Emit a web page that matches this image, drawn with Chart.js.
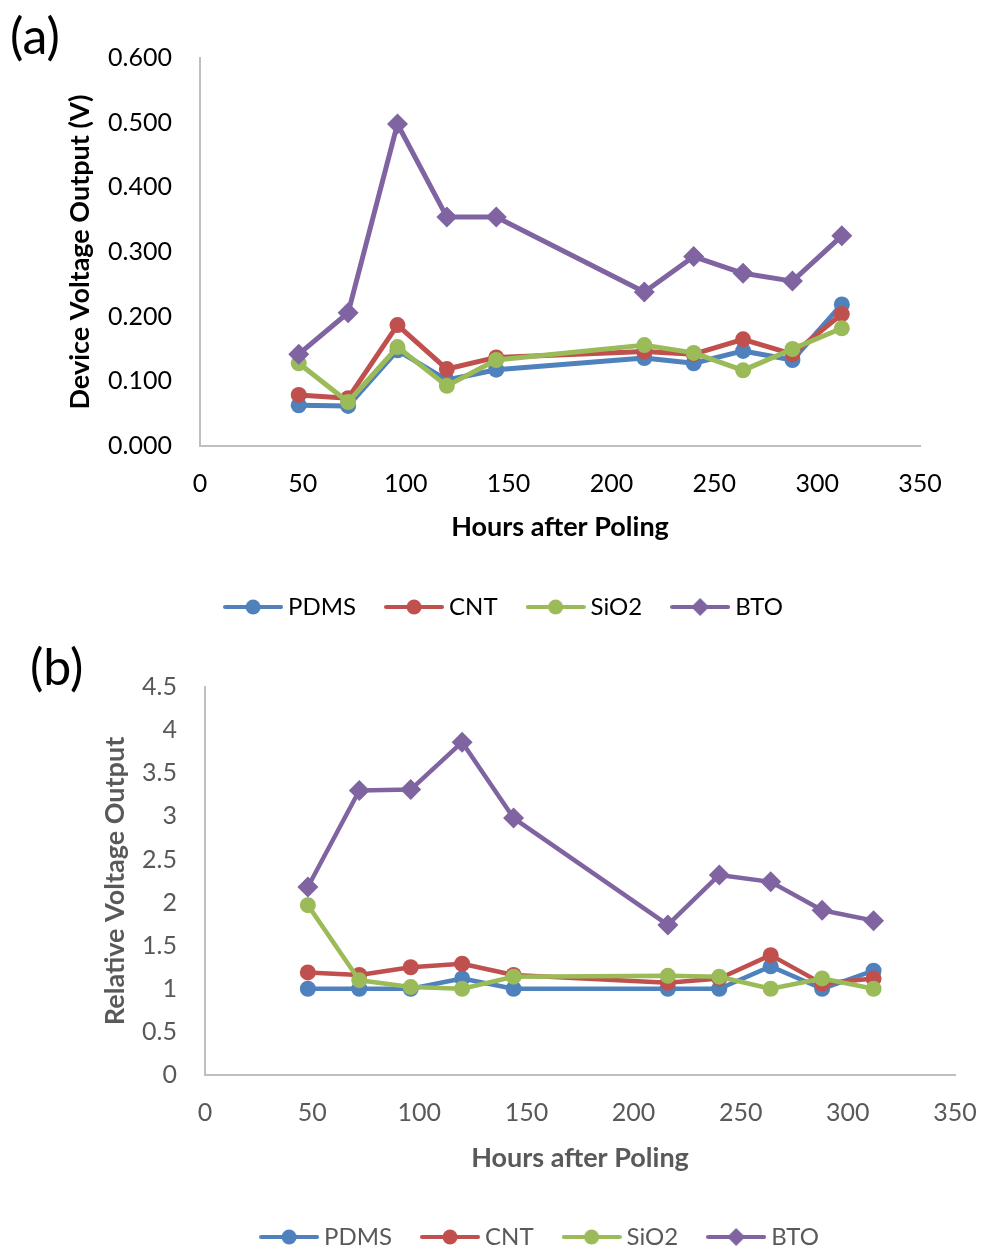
<!DOCTYPE html>
<html><head><meta charset="utf-8">
<script src="https://cdn.jsdelivr.net/npm/chart.js@4.4.0/dist/chart.umd.min.js"></script>
<style>
html,body{margin:0;padding:0;background:#fff;}
body{width:981px;height:1252px;position:relative;overflow:hidden;font-family:Lato,sans-serif;}
.wrap{position:absolute;left:0;width:981px;}
#w1{top:0;height:640px;}
#w2{top:633px;height:630px;}
.lab{position:absolute;font-family:Lato,sans-serif;font-size:50px;color:#000;line-height:1;}
</style></head><body>
<div class="wrap" id="w1"><canvas id="c1" width="981" height="640"></canvas></div>
<div class="wrap" id="w2"><canvas id="c2" width="981" height="630"></canvas></div>
<div class="lab" style="left:10px;top:10px">(a)</div>
<div class="lab" style="left:30px;top:641px">(b)</div>
<script>
// ---- data ----
const hours = [48, 72, 96, 120, 144, 216, 240, 264, 288, 312];
const seriesNames = ['PDMS', 'CNT', 'SiO2', 'BTO'];

// (a) Device voltage output (V)
const voltPDMS = [0.063, 0.062, 0.148, 0.102, 0.118, 0.136, 0.128, 0.147, 0.133, 0.219];
const voltCNT  = [0.079, 0.074, 0.187, 0.119, 0.137, 0.146, 0.142, 0.165, 0.142, 0.204];
const voltSiO2 = [0.128, 0.068, 0.153, 0.093, 0.133, 0.156, 0.144, 0.117, 0.150, 0.182];
const voltBTO  = [0.142, 0.206, 0.498, 0.354, 0.354, 0.238, 0.293, 0.267, 0.255, 0.325];

// (b) Relative voltage output
const relPDMS = [1.00, 1.00, 1.00, 1.12, 1.00, 1.00, 1.00, 1.26, 1.00, 1.21];
const relCNT  = [1.19, 1.16, 1.25, 1.29, 1.16, 1.07, 1.12, 1.39, 1.06, 1.12];
const relSiO2 = [1.97, 1.10, 1.02, 1.00, 1.14, 1.15, 1.14, 1.00, 1.12, 1.00];
const relBTO  = [2.18, 3.30, 3.31, 3.86, 2.98, 1.74, 2.32, 2.24, 1.91, 1.79];

const xTicks = [0, 50, 100, 150, 200, 250, 300, 350];
const yTicksA = [0, 0.1, 0.2, 0.3, 0.4, 0.5, 0.6];
const yTicksB = [0, 0.5, 1, 1.5, 2, 2.5, 3, 3.5, 4, 4.5];

// ---- styles ----
const colors = ['#4F81BD', '#C0504D', '#9BBB59', '#8064A2'];
const styles = ['circle', 'circle', 'circle', 'rectRot'];
const FONT = 'Lato, "Open Sans", sans-serif';

function legendImage(color, style) {
  const c = document.createElement('canvas');
  c.width = 60; c.height = 22;
  const g = c.getContext('2d');
  g.strokeStyle = color; g.lineWidth = 4; g.lineCap = 'round';
  g.beginPath(); g.moveTo(2, 11); g.lineTo(58, 11); g.stroke();
  g.fillStyle = color;
  g.beginPath();
  if (style === 'rectRot') {
    g.moveTo(30, 2); g.lineTo(39, 11); g.lineTo(30, 20); g.lineTo(21, 11); g.closePath();
  } else {
    g.arc(30, 11, 7.5, 0, Math.PI * 2);
  }
  g.fill();
  return c;
}
const legendImgs = colors.map((c, i) => legendImage(c, styles[i]));

function buildDatasets(arrays, lw) {
  return arrays.map((vals, i) => ({
    label: seriesNames[i],
    data: hours.map((h, j) => ({x: h, y: vals[j]})),
    borderColor: colors[i],
    backgroundColor: colors[i],
    borderWidth: lw,
    borderJoinStyle: 'round',
    borderCapStyle: 'round',
    pointStyle: styles[i],
    pointRadius: styles[i] === 'rectRot' ? 10.5 : 8,
    pointHoverRadius: styles[i] === 'rectRot' ? 10.5 : 8,
    pointBorderWidth: 0,
    pointBackgroundColor: colors[i],
    tension: 0,
    order: 4 - i,
    clip: false
  }));
}

function makeChart(id, o) {
  return new Chart(document.getElementById(id), {
    type: 'line',
    data: {datasets: buildDatasets(o.arrays, o.lw)},
    options: {
      responsive: false,
      animation: false,
      events: [],
      layout: {padding: {left: o.padL, right: 0, top: o.padT, bottom: o.padB}},
      plugins: {
        tooltip: {enabled: false},
        title: {display: false},
        legend: {
          display: true,
          position: 'bottom',
          align: 'center',
          labels: {
            usePointStyle: true,
            pointStyleWidth: 46,
            padding: 35,
            color: o.textColor,
            font: {family: FONT, size: 24},
            sort: (a, b) => a.datasetIndex - b.datasetIndex,
            generateLabels: (chart) => {
              const items = Chart.defaults.plugins.legend.labels.generateLabels(chart);
              items.forEach((it) => { it.pointStyle = legendImgs[it.datasetIndex]; });
              return items;
            }
          }
        }
      },
      scales: {
        x: {
          type: 'linear',
          min: 0, max: 350,
          afterBuildTicks: (s) => { s.ticks = xTicks.map(v => ({value: v})); },
          grid: {display: false, drawTicks: false},
          border: {display: true, color: '#BFBFBF', width: 2},
          ticks: {color: o.textColor, font: {family: FONT, size: 25}, padding: 23, maxRotation: 0},
          title: {display: true, text: 'Hours after Poling', color: o.textColor,
                  font: {family: FONT, size: 27, weight: 'bold'}, padding: {top: 0, bottom: o.xTitlePB}},
          afterFit: (s) => { s.height = o.xH; s.paddingLeft = 0; s.paddingRight = 0; }
        },
        y: {
          type: 'linear',
          position: 'left',
          min: o.yMin, max: o.yMax,
          afterBuildTicks: (s) => { s.ticks = o.yTicks.map(v => ({value: v})); },
          grid: {display: false, drawTicks: false},
          border: {display: true, color: '#BFBFBF', width: 2},
          ticks: {color: o.textColor, font: {family: FONT, size: 25}, padding: 28, callback: o.yFmt},
          title: {display: true, text: o.yTitle, color: o.textColor,
                  font: {family: FONT, size: 27, weight: 'bold'}, padding: {top: o.yTitlePT, bottom: 0}},
          afterFit: (s) => { s.width = o.yW; }
        },
        yR: {
          type: 'linear',
          position: 'right',
          display: true,
          grid: {display: false, drawTicks: false},
          border: {display: false},
          ticks: {display: false},
          afterFit: (s) => { s.width = o.rW; }
        }
      }
    }
  });
}

makeChart('c1', {
  arrays: [voltPDMS, voltCNT, voltSiO2, voltBTO], lw: 5,
  textColor: '#000000',
  padL: 32, padT: 58, padB: 11,
  xH: 114, xTitlePB: 16.8,
  yW: 168, yTitlePT: 31.8, rW: 61,
  yMin: 0, yMax: 0.6, yTicks: yTicksA,
  yFmt: (v) => Number(v).toFixed(3),
  yTitle: 'Device Voltage Output (V)'
});

makeChart('c2', {
  arrays: [relPDMS, relCNT, relSiO2, relBTO], lw: 4.5,
  textColor: '#595959',
  padL: 104, padT: 54, padB: 4,
  xH: 115, xTitlePB: 15.8,
  yW: 101, yTitlePT: -5.2, rW: 26,
  yMin: 0, yMax: 4.5, yTicks: yTicksB,
  yFmt: (v) => String(Math.round(v * 10) / 10),
  yTitle: 'Relative Voltage Output'
});
</script>
</body></html>
